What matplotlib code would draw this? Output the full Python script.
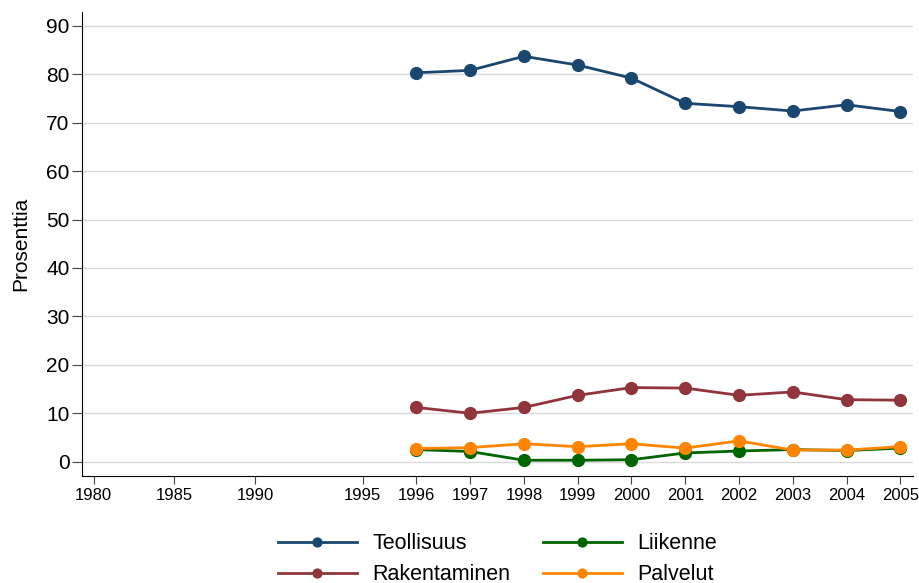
import matplotlib.pyplot as plt

plt.rcParams['font.family'] = ['Liberation Sans', 'DejaVu Sans']

# Vuodet ja akselin sijainnit (akseli ei ole tasavälinen)
vuodet = [1996, 1997, 1998, 1999, 2000, 2001, 2002, 2003, 2004, 2005]
tick_vuodet = [1980, 1985, 1990, 1995] + vuodet
tick_paikat = [-5, -3.5, -2, 0, 1, 2, 3, 4, 5, 6, 7, 8, 9, 10]

teollisuus = [80.3, 80.8, 83.7, 81.9, 79.2, 74.0, 73.3, 72.4, 73.7, 72.3]
rakentaminen = [11.2, 10.0, 11.2, 13.7, 15.3, 15.2, 13.7, 14.4, 12.8, 12.7]
liikenne = [2.5, 2.1, 0.3, 0.3, 0.4, 1.8, 2.2, 2.5, 2.3, 2.8]
palvelut = [2.7, 2.9, 3.7, 3.1, 3.7, 2.8, 4.3, 2.4, 2.4, 3.1]

paikka = {v: p for v, p in zip(tick_vuodet, tick_paikat)}
x = [paikka[v] for v in vuodet]

fig = plt.figure(figsize=(9.2, 5.83), dpi=100)
ax = fig.add_axes([0.089, 0.184, 0.903, 0.795])

sarjat = [
    (teollisuus, 'Teollisuus', '#1a476f'),
    (rakentaminen, 'Rakentaminen', '#90353b'),
    (liikenne, 'Liikenne', '#006400'),
    (palvelut, 'Palvelut', '#ff8500'),
]
# piirretään liikenne ennen palveluita, jotta oranssi jää päälle
for arvot, nimi, vari in sarjat:
    ax.plot(x, arvot, color=vari, linewidth=2, marker='o', markersize=8.5,
            label=nimi, zorder=3)

ax.set_xlim(-5.22, 10.23)
ax.set_ylim(-2.9, 92.8)
ax.set_yticks(range(0, 91, 10))
ax.set_xticks(tick_paikat)
ax.set_xticklabels([str(v) for v in tick_vuodet], fontsize=12)
ax.tick_params(axis='y', labelsize=15, length=7, pad=2, color='#444444')
ax.tick_params(axis='x', length=6, pad=3, color='#444444')
ax.yaxis.grid(True, color='#d9d9d9', linewidth=1)
ax.set_axisbelow(True)
for s in ['top', 'right']:
    ax.spines[s].set_visible(False)
ax.set_ylabel('Prosenttia', fontsize=15, labelpad=11)

ax.legend(loc='upper center', bbox_to_anchor=(0.5, -0.082), ncol=2,
          frameon=False, fontsize=15.5, handlelength=3.7, columnspacing=1.5,
          labelspacing=0.48, handletextpad=0.7, markerscale=0.75)

plt.savefig('out.png', dpi=100)
